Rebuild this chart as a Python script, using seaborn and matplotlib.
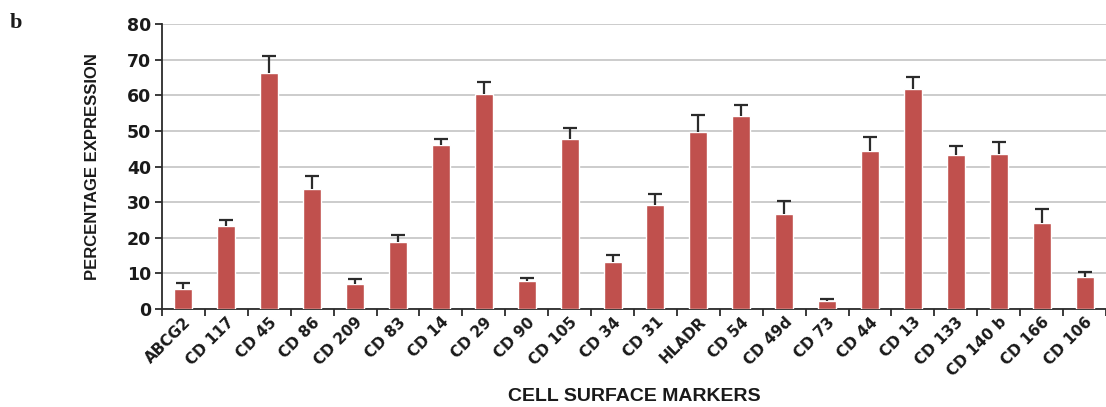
import numpy as np
import pandas as pd
import matplotlib
matplotlib.use("Agg")
import matplotlib.pyplot as plt
from matplotlib.ticker import FixedLocator, NullFormatter
import seaborn as sns

markers = ["ABCG2", "CD 117", "CD 45", "CD 86", "CD 209", "CD 83", "CD 14", "CD 29",
           "CD 90", "CD 105", "CD 34", "CD 31", "HLADR", "CD 54", "CD 49d", "CD 73",
           "CD 44", "CD 13", "CD 133", "CD 140 b", "CD 166", "CD 106"]
expression = [5.7, 23.3, 66.2, 33.7, 6.9, 18.9, 46.0, 60.4, 7.9, 47.7, 13.1, 29.2,
              49.8, 54.3, 26.6, 2.2, 44.4, 61.8, 43.1, 43.4, 24.2, 9.1]
error = [1.5, 1.7, 4.8, 3.7, 1.4, 1.9, 1.7, 3.2, 0.9, 3.1, 2.1, 3.0,
         4.7, 3.0, 3.6, 0.6, 3.9, 3.2, 2.7, 3.4, 3.8, 1.4]
y_ticks = [0, 10, 20, 30, 40, 50, 60, 70, 80]

df = pd.DataFrame({"marker": markers, "expression": expression, "error": error})

sns.set_theme(style="white")
plt.rcParams["font.family"] = ["DejaVu Sans"]

fig = plt.figure(figsize=(11.06, 4.07), dpi=100)
ax = fig.add_axes([0.1465, 0.2408, 0.8535, 0.7002])

sns.barplot(data=df, x="marker", y="expression", color="#C0504D", saturation=1,
            width=0.42, errorbar=None, ax=ax, zorder=3)

# plus-only error bars: drop the cap at the bar top
xs = np.arange(len(markers))
eb = ax.errorbar(xs, df["expression"], yerr=[np.zeros(len(xs)), df["error"]],
                 fmt="none", ecolor="#2b2b2b", elinewidth=1.6, capsize=5,
                 capthick=1.6, zorder=4)
eb[1][0].remove()

ax.set_xlim(-0.5, len(markers) - 0.5)
ax.set_ylim(0, 80)
ax.set_yticks(y_ticks)
ax.yaxis.grid(True, color="#c8c8c8", linewidth=1.3)
ax.set_axisbelow(True)

for side in ["top", "right"]:
    ax.spines[side].set_visible(False)
for side in ["left", "bottom"]:
    ax.spines[side].set_color("#2b2b2b")
    ax.spines[side].set_linewidth(1.3)

# tick marks sit between categories
ax.xaxis.set_minor_locator(FixedLocator(np.arange(-0.5, len(markers), 1.0)))
ax.xaxis.set_minor_formatter(NullFormatter())
ax.tick_params(axis="x", which="major", length=0, pad=4)
ax.tick_params(axis="x", which="minor", length=5, width=1.3, color="#2b2b2b",
               direction="out", bottom=True)
ax.tick_params(axis="y", which="major", length=5, width=1.3, color="#2b2b2b",
               direction="out", left=True, pad=3)

ax.set_xticks(xs)
ax.set_xticklabels(markers, rotation=45, ha="right", rotation_mode="anchor",
                   fontsize=11, fontweight="bold", color="#1a1a1a")
for lbl in ax.get_yticklabels():
    lbl.set_fontsize(12.5)
    lbl.set_fontweight("bold")
    lbl.set_color("#1a1a1a")

ax.set_xlabel("CELL SURFACE MARKERS", fontsize=14, fontweight="bold",
              color="#1a1a1a", labelpad=6,
              family=["Liberation Sans", "DejaVu Sans"])
ax.set_ylabel("PERCENTAGE EXPRESSION", fontsize=12, fontweight="bold",
              color="#1a1a1a", labelpad=19,
              family=["Liberation Sans", "DejaVu Sans"])

fig.text(0.009, 0.93, "b", fontsize=16, fontweight="bold",
         family=["Liberation Serif", "DejaVu Serif"], color="#1a1a1a")

fig.savefig("out.png", dpi=100)
